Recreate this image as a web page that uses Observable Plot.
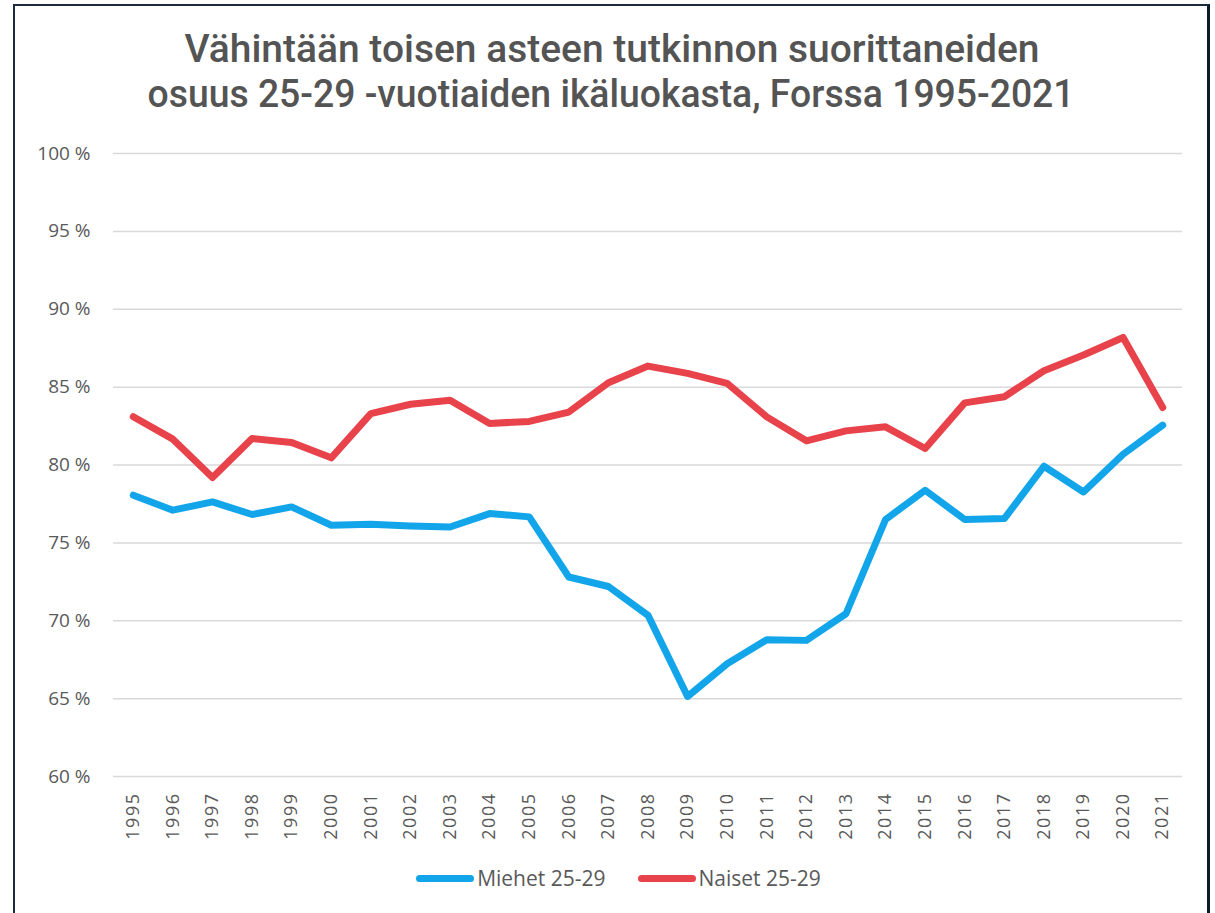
<!DOCTYPE html>
<html><head><meta charset="utf-8">
<script src="https://cdn.jsdelivr.net/npm/d3@7"></script>
<script src="https://cdn.jsdelivr.net/npm/@observablehq/plot@0.6"></script>
<style>
body{margin:0;background:#fff;width:1215px;height:913px;overflow:hidden;position:relative;font-family:"Open Sans",sans-serif;}
#frame{position:absolute;left:13px;top:4px;width:1197px;height:960px;border-left:2px solid #1b2b40;border-top:2px solid #1b2b40;border-right:3px solid #0d1b2e;box-sizing:border-box;}
#title{position:absolute;left:13px;width:1197px;top:27px;text-align:center;font-family:Roboto,"DejaVu Sans Condensed",sans-serif;font-size:38px;line-height:45px;color:#545454;font-weight:500;}
#title span{display:inline-block;white-space:nowrap;transform-origin:50% 50%;}
#chart{position:absolute;left:0;top:130px;}
#legend{position:absolute;left:0;width:1215px;top:864px;display:flex;justify-content:center;padding-left:22px;box-sizing:border-box;font-size:21px;color:#595959;}
.item{display:flex;align-items:center;margin:0 16px;}
.sw{width:58px;height:7px;border-radius:4px;margin-right:3px;}
</style></head>
<body>
<div id="frame"></div>
<div id="title"><span id="t1">Vähintään toisen asteen tutkinnon suorittaneiden</span><br><span id="t2">osuus 25-29 -vuotiaiden ikäluokasta, Forssa 1995-2021</span></div>
<div id="chart"></div>
<div id="legend"></div>
<script>
const years = ["1995","1996","1997","1998","1999","2000","2001","2002","2003","2004","2005","2006","2007","2008","2009","2010","2011","2012","2013","2014","2015","2016","2017","2018","2019","2020","2021"];
const miehet = [78.06,77.1,77.63,76.82,77.31,76.13,76.2,76.09,76.02,76.88,76.67,72.81,72.2,70.35,65.14,67.24,68.78,68.74,70.45,76.5,78.38,76.5,76.56,79.92,78.27,80.69,82.56];
const naiset = [83.1,81.66,79.2,81.7,81.45,80.46,83.3,83.9,84.16,82.67,82.8,83.4,85.28,86.35,85.88,85.24,83.09,81.55,82.19,82.45,81.06,83.99,84.38,86.05,87.06,88.19,83.69];
const seriesNames = ["Miehet 25-29","Naiset 25-29"];
const seriesColors = ["#12A5EA","#E8434A"];
const yTicks = [60,65,70,75,80,85,90,95,100];

const data = years.flatMap((y,i)=>[
  {year:y, value:miehet[i], series:seriesNames[0]},
  {year:y, value:naiset[i], series:seriesNames[1]}
]);

const chart = Plot.plot({
  width:1215, height:720,
  marginLeft:113, marginRight:33, marginTop:23, marginBottom:74,
  x:{type:"point", domain:years, padding:0.5, round:false, label:null},
  y:{domain:[60,100], label:null},
  color:{domain:seriesNames, range:seriesColors},
  style:{fontFamily:"'Open Sans', sans-serif", background:"transparent"},
  marks:[
    Plot.gridY(yTicks, {stroke:"#d9d9d9", strokeOpacity:1, strokeWidth:1.5}),
    Plot.axisY(yTicks, {tickSize:0, tickPadding:23, tickFormat:d=>d+" %", fontSize:19, fill:"#595959", label:null}),
    Plot.axisX({tickSize:0, tickRotate:-90, tickPadding:16, fontSize:18, fill:"#595959", label:null}),
    Plot.line(data, {x:"year", y:"value", z:"series", stroke:"series", strokeWidth:7, strokeLinecap:"round", strokeLinejoin:"round"})
  ]
});
chart.querySelectorAll("g[aria-label='x-axis tick label'] text").forEach(t=>t.setAttribute("letter-spacing","1.5"));
document.getElementById("chart").appendChild(chart);

// fit title lines to reference widths
[["t1",855],["t2",927]].forEach(([id,w])=>{
  const el=document.getElementById(id);
  const cw=el.getBoundingClientRect().width;
  el.style.transform=`scaleX(${w/cw})`;
});

const legend = document.getElementById("legend");
seriesNames.forEach((n,i)=>{
  const it = document.createElement("div"); it.className="item";
  const sw = document.createElement("div"); sw.className="sw"; sw.style.background=seriesColors[i];
  const t = document.createElement("span"); t.textContent=n;
  it.appendChild(sw); it.appendChild(t); legend.appendChild(it);
});
</script>
</body></html>
